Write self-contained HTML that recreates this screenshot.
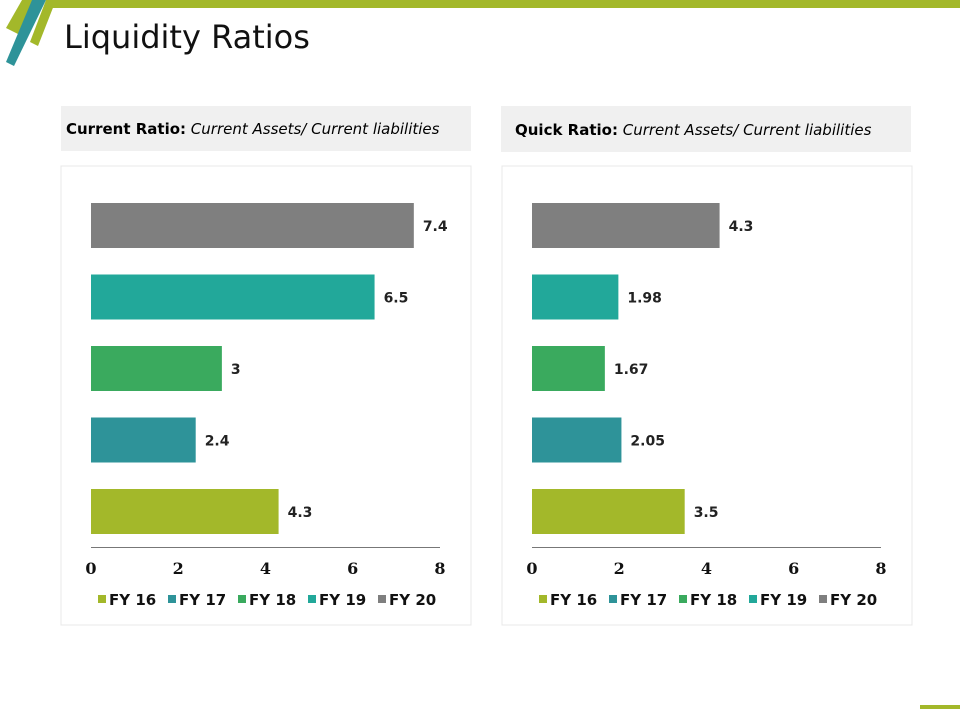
<!DOCTYPE html>
<html><head><meta charset="utf-8"><style>
body{margin:0;width:960px;height:720px;background:#fff;position:relative;overflow:hidden;font-family:"DejaVu Sans","Liberation Sans",sans-serif}
.abs{position:absolute}
</style></head><body>
<svg class="abs" style="left:0;top:0" width="960" height="720">
<rect x="52" y="0" width="908" height="8" fill="#a3b82a"/>
<polygon points="22,0 40,0 18,34 6,28" fill="#a3b82a"/>
<polygon points="32,0 46,0 14,66 6,62" fill="#2e9399"/>
<polygon points="46,0 56,0 38,46 30,42" fill="#a3b82a"/>
<rect x="920" y="705" width="40" height="4" fill="#a3b82a"/>
</svg>
<div class="abs" style="left:64px;top:18px;font-size:32px;color:#111">Liquidity Ratios</div>
<div class="abs" style="left:61px;top:106px;width:410px;height:45px;background:#f0f0f0;font-size:15px;line-height:47px;text-indent:5px;white-space:nowrap;overflow:hidden"><b>Current Ratio:</b> <i>Current Assets/ Current liabilities</i></div>
<div class="abs" style="left:501px;top:106px;width:410px;height:46px;background:#f0f0f0;font-size:15px;line-height:49px;text-indent:14px;white-space:nowrap;overflow:hidden"><b>Quick Ratio:</b> <i>Current Assets/ Current liabilities</i></div>
<svg id="c1" class="abs" style="left:0;top:0" width="960" height="720"></svg>
<script>
const categories=["FY 16","FY 17","FY 18","FY 19","FY 20"];
const currentValues=[4.3,2.4,3,6.5,7.4];
const currentLabels=["4.3","2.4","3","6.5","7.4"];
const quickValues=[3.5,2.05,1.67,1.98,4.3];
const quickLabels=["3.5","2.05","1.67","1.98","4.3"];
const ticks=[0,2,4,6,8];
const colors=["#a3b82a","#2e9399","#3aaa5e","#22a89a","#7f7f7f"];
const NS="http://www.w3.org/2000/svg";
const svg=document.getElementById('c1');
function mk(tag,attrs,parent){const e=document.createElementNS(NS,tag);for(const k in attrs)e.setAttribute(k,attrs[k]);(parent||svg).appendChild(e);return e;}
function draw(ox,values,labels,name){
  const g=mk('g',{});
  
  
  const panel=mk('rect',{x:ox-30,y:166,width:410,height:459,fill:'none',stroke:'#e8e8e8'},g);
  
  
  const x0=ox,x1=ox+349;
  const xs=v=>x0+(v-ticks[0])/(ticks[ticks.length-1]-ticks[0])*(x1-x0);
  const ys=i=>489-i*71.5;
  values.forEach((v,i)=>{
    const r=mk('rect',{x:xs(0),y:ys(i),width:xs(v)-xs(0),height:45,fill:colors[i]},g);
    
    
    const t=mk('text',{x:xs(v)+9,y:ys(i)+28,'font-size':14,'font-weight':'bold',fill:'#222'},g);
    t.textContent=labels[i];
    
    
  });
  const ax=mk('line',{x1:x0,x2:x1,y1:547.5,y2:547.5,stroke:'#777'},g);
  
  
  ticks.forEach(tv=>{
    const t=mk('text',{x:xs(tv),y:574,'font-size':16,'font-weight':'bold','text-anchor':'middle',fill:'#111'},g);
    t.setAttribute('style','font-family:"DejaVu Serif",serif;font-size:16px;font-weight:bold');
    t.textContent=tv;
    
    
  });
  let lx=ox+7;
  categories.forEach((c,i)=>{
    const s=mk('rect',{x:lx,y:595,width:8,height:8,fill:colors[i]},g);
    
    
    const t=mk('text',{x:lx+11,y:605,'font-size':15,'font-weight':'bold',fill:'#111'},g);
    t.textContent=c;
    
    
    lx+=70;
  });
}
draw(91,currentValues,currentLabels,'current-ratio-plot');
draw(532,quickValues,quickLabels,'quick-ratio-plot');
</script>
</body></html>
